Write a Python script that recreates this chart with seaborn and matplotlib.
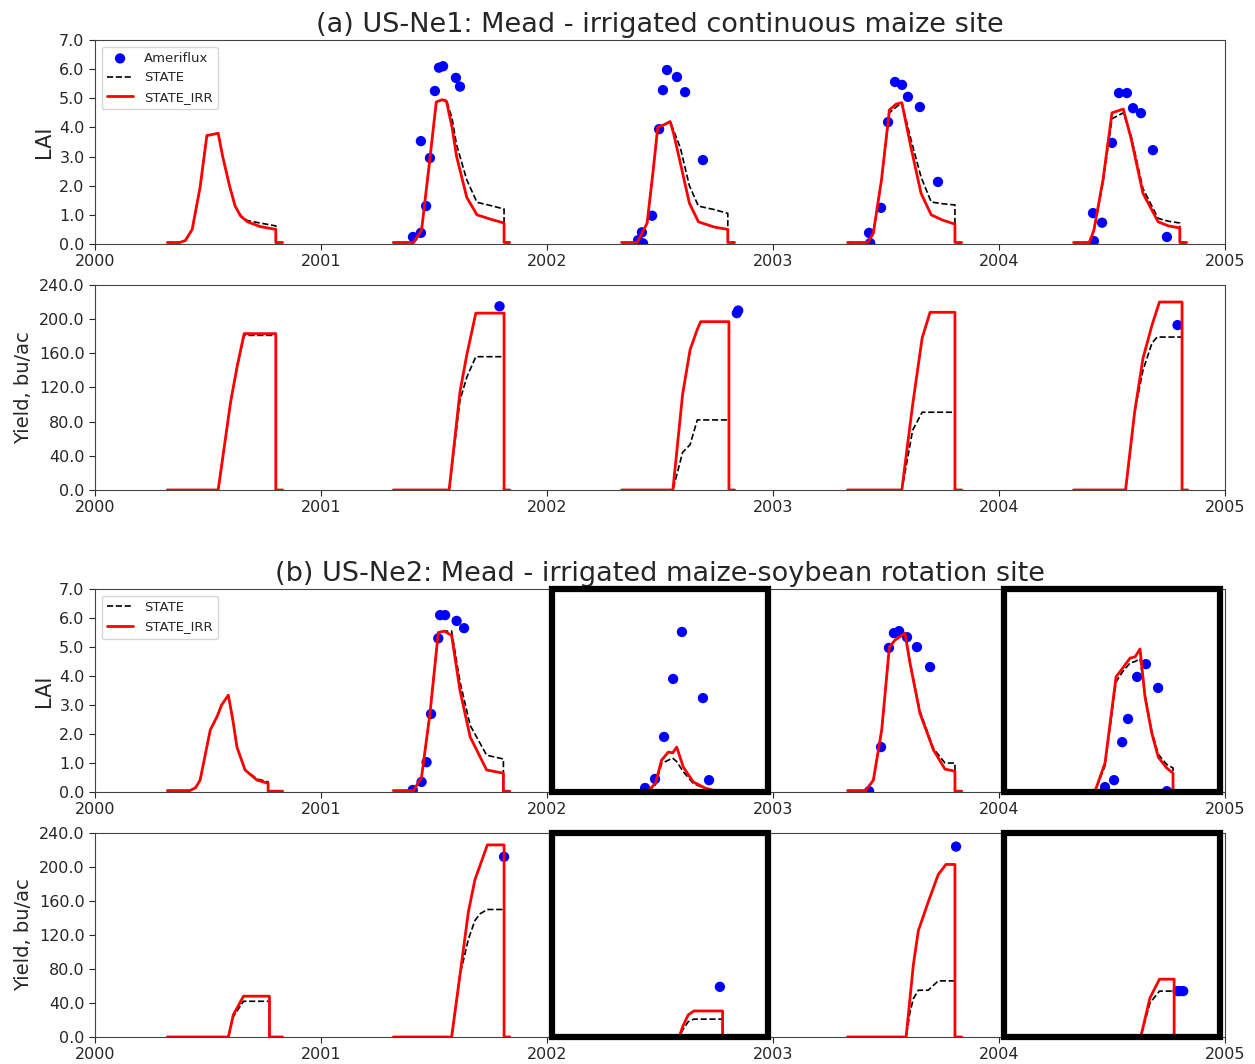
import numpy as np
import pandas as pd
import matplotlib
matplotlib.use('Agg')
import matplotlib.pyplot as plt
import matplotlib.transforms as mtransforms
from matplotlib.patches import Rectangle
import seaborn as sns

# ---------------- (a) US-Ne1, LAI ----------------
ne1_lai_t = [2000.32, 2000.375, 2000.40, 2000.43, 2000.465, 2000.495, 2000.545, 2000.565, 2000.595, 2000.62, 2000.645, 2000.675, 2000.73, 2000.80, 2000.80, 2000.83,
             2001.32, 2001.41, 2001.445, 2001.48, 2001.51, 2001.535, 2001.555, 2001.58, 2001.60, 2001.645, 2001.69, 2001.75, 2001.81, 2001.81, 2001.835,
             2002.33, 2002.40, 2002.443, 2002.47, 2002.49, 2002.52, 2002.545, 2002.56, 2002.59, 2002.63, 2002.67, 2002.74, 2002.80, 2002.80, 2002.83,
             2003.33, 2003.42, 2003.444, 2003.48, 2003.515, 2003.545, 2003.57, 2003.61, 2003.655, 2003.70, 2003.75, 2003.805, 2003.805, 2003.835,
             2004.33, 2004.40, 2004.42, 2004.46, 2004.50, 2004.55, 2004.585, 2004.637, 2004.704, 2004.75, 2004.80, 2004.80, 2004.83]
ne1_lai_irr = [0.05, 0.05, 0.12, 0.5, 1.95, 3.72, 3.8, 3.0, 2.0, 1.3, 0.95, 0.76, 0.6, 0.5, 0.05, 0.05,
               0.05, 0.05, 0.48, 2.8, 4.87, 4.95, 4.9, 4.0, 3.0, 1.6, 1.0, 0.85, 0.72, 0.05, 0.05,
               0.05, 0.05, 0.72, 2.54, 4.0, 4.1, 4.2, 3.8, 2.78, 1.4, 0.76, 0.58, 0.5, 0.05, 0.05,
               0.05, 0.05, 0.38, 2.2, 4.6, 4.8, 4.85, 3.33, 1.74, 1.0, 0.82, 0.68, 0.05, 0.05,
               0.05, 0.05, 0.48, 2.2, 4.5, 4.63, 3.6, 1.74, 0.76, 0.62, 0.55, 0.05, 0.05]
ne1_lai_state = [0.05, 0.05, 0.12, 0.5, 1.95, 3.72, 3.8, 3.0, 2.0, 1.3, 0.97, 0.8, 0.72, 0.62, 0.05, 0.05,
                 0.05, 0.05, 0.48, 2.8, 4.87, 4.95, 4.95, 4.3, 3.4, 2.2, 1.43, 1.32, 1.2, 0.05, 0.05,
                 0.05, 0.05, 0.72, 2.54, 4.0, 4.1, 4.2, 3.9, 3.3, 2.0, 1.3, 1.18, 1.05, 0.05, 0.05,
                 0.05, 0.05, 0.38, 2.2, 4.5, 4.7, 4.85, 3.6, 2.3, 1.44, 1.38, 1.34, 0.05, 0.05,
                 0.05, 0.05, 0.45, 2.1, 4.3, 4.5, 3.7, 1.9, 0.88, 0.78, 0.72, 0.05, 0.05]
ne1_lai_obs_t = [2001.407, 2001.442, 2001.442, 2001.465, 2001.482, 2001.504, 2001.522, 2001.540, 2001.597, 2001.615,
                 2002.403, 2002.42, 2002.425, 2002.465, 2002.496, 2002.513, 2002.531, 2002.575, 2002.611, 2002.69,
                 2003.425, 2003.43, 2003.478, 2003.509, 2003.54, 2003.571, 2003.597, 2003.65, 2003.73,
                 2004.416, 2004.42, 2004.456, 2004.50, 2004.531, 2004.566, 2004.593, 2004.628, 2004.681, 2004.743]
ne1_lai_obs = [0.24, 0.38, 3.53, 1.3, 2.95, 5.25, 6.05, 6.1, 5.7, 5.4,
               0.13, 0.4, 0.02, 0.97, 3.94, 5.28, 5.97, 5.73, 5.21, 2.88,
               0.38, 0.03, 1.24, 4.18, 5.56, 5.46, 5.05, 4.7, 2.13,
               1.06, 0.1, 0.73, 3.47, 5.18, 5.18, 4.66, 4.49, 3.22, 0.24]

# ---------------- (a) US-Ne1, yield ----------------
ne1_yld_t = [2000.32, 2000.545, 2000.60, 2000.63, 2000.66, 2000.80, 2000.80, 2000.83,
             2001.32, 2001.567, 2001.615, 2001.645, 2001.685, 2001.81, 2001.81, 2001.835,
             2002.33, 2002.557, 2002.60, 2002.633, 2002.665, 2002.68, 2002.805, 2002.805, 2002.83,
             2003.33, 2003.57, 2003.618, 2003.66, 2003.695, 2003.805, 2003.805, 2003.835,
             2004.33, 2004.56, 2004.60, 2004.637, 2004.677, 2004.70, 2004.71, 2004.81, 2004.81, 2004.835]
ne1_yld_irr = [0, 0, 103, 146, 183, 183, 0, 0,
               0, 0, 115, 158, 207, 207, 0, 0,
               0, 0, 112, 164, 188, 197, 197, 0, 0,
               0, 0, 100, 178, 208, 208, 0, 0,
               0, 0, 91, 154, 193, 212, 220, 220, 0, 0]
ne1_yld_state = [0, 0, 103, 146, 181, 181, 0, 0,
                 0, 0, 105, 132, 156, 156, 0, 0,
                 0, 0, 44, 53, 82, 82, 82, 0, 0,
                 0, 0, 70, 91, 91, 91, 0, 0,
                 0, 0, 91, 140, 172, 179, 179, 179, 0, 0]
ne1_yld_obs_t = [2001.79, 2002.84, 2002.846, 2004.79]
ne1_yld_obs = [215, 207, 210, 193]

# ---------------- (b) US-Ne2, LAI ----------------
ne2_lai_t = [2000.32, 2000.42, 2000.445, 2000.465, 2000.51, 2000.54, 2000.56, 2000.59, 2000.61, 2000.628, 2000.664, 2000.717, 2000.766, 2000.766, 2000.83,
             2001.32, 2001.41, 2001.445, 2001.482, 2001.519, 2001.545, 2001.578, 2001.615, 2001.66, 2001.733, 2001.807, 2001.807, 2001.835,
             2002.33, 2002.447, 2002.48, 2002.507, 2002.537, 2002.556, 2002.574, 2002.603, 2002.647, 2002.699, 2002.75,
             2003.33, 2003.41, 2003.444, 2003.481, 2003.515, 2003.54, 2003.584, 2003.606, 2003.65, 2003.71, 2003.761, 2003.805, 2003.805, 2003.835,
             2004.33, 2004.425, 2004.469, 2004.518, 2004.547, 2004.58, 2004.602, 2004.624, 2004.646, 2004.676, 2004.705, 2004.742, 2004.77, 2004.77, 2004.80]
ne2_lai_irr = [0.05, 0.05, 0.15, 0.41, 2.14, 2.6, 3.0, 3.34, 2.48, 1.55, 0.76, 0.41, 0.3, 0.03, 0.03,
               0.05, 0.05, 0.52, 2.7, 5.5, 5.55, 5.4, 3.5, 1.9, 0.76, 0.65, 0.03, 0.03,
               0.03, 0.03, 0.3, 1.1, 1.38, 1.35, 1.55, 0.86, 0.35, 0.14, 0.03,
               0.05, 0.05, 0.41, 2.14, 5.0, 5.24, 5.48, 4.45, 2.72, 1.45, 0.79, 0.72, 0.03, 0.03,
               0.03, 0.03, 1.0, 3.97, 4.27, 4.62, 4.66, 4.93, 3.28, 2.03, 1.2, 0.83, 0.65, 0.03, 0.03]
ne2_lai_state = [0.05, 0.05, 0.15, 0.41, 2.14, 2.6, 3.0, 3.34, 2.48, 1.55, 0.76, 0.45, 0.35, 0.03, 0.03,
                 0.05, 0.05, 0.52, 2.7, 5.5, 5.55, 5.55, 3.8, 2.3, 1.27, 1.14, 0.03, 0.03,
                 0.03, 0.03, 0.25, 0.98, 1.1, 1.17, 1.05, 0.7, 0.3, 0.12, 0.03,
                 0.05, 0.05, 0.41, 2.14, 5.0, 5.24, 5.48, 4.5, 2.8, 1.5, 1.0, 1.0, 0.03, 0.03,
                 0.03, 0.03, 0.9, 3.8, 4.15, 4.45, 4.5, 4.6, 3.35, 2.1, 1.3, 0.95, 0.83, 0.03, 0.03]
ne2_lai_obs_t = [2001.406, 2001.445, 2001.467, 2001.487, 2001.519, 2001.527, 2001.549, 2001.60, 2001.633,
                 2002.434, 2002.478, 2002.518, 2002.558, 2002.597, 2002.69, 2002.717,
                 2003.425, 2003.478, 2003.513, 2003.535, 2003.558, 2003.593, 2003.637, 2003.695,
                 2004.469, 2004.509, 2004.545, 2004.571, 2004.611, 2004.65, 2004.704, 2004.743]
ne2_lai_obs = [0.07, 0.35, 1.03, 2.69, 5.3, 6.1, 6.1, 5.9, 5.65,
               0.14, 0.45, 1.9, 3.9, 5.52, 3.24, 0.41,
               0.03, 1.55, 4.97, 5.48, 5.55, 5.34, 5.0, 4.31,
               0.17, 0.41, 1.72, 2.52, 3.97, 4.41, 3.59, 0.03]

# ---------------- (b) US-Ne2, yield ----------------
ne2_yld_t = [2000.32, 2000.59, 2000.612, 2000.657, 2000.772, 2000.772, 2000.83,
             2001.32, 2001.578, 2001.615, 2001.652, 2001.681, 2001.704, 2001.736, 2001.81, 2001.81, 2001.835,
             2002.33, 2002.585, 2002.60, 2002.625, 2002.65, 2002.777, 2002.777, 2002.83,
             2003.33, 2003.589, 2003.606, 2003.621, 2003.643, 2003.687, 2003.731, 2003.765, 2003.805, 2003.805, 2003.835,
             2004.33, 2004.627, 2004.668, 2004.71, 2004.775, 2004.775, 2004.80]
ne2_yld_irr = [0, 0, 26, 48, 48, 0, 0,
               0, 0, 73, 147, 185, 202, 226, 226, 0, 0,
               0, 0, 12, 26, 30.6, 30.6, 0, 0,
               0, 0, 45, 85, 125, 159, 191, 203, 203, 0, 0,
               0, 0, 46, 68, 68, 0, 0]
ne2_yld_state = [0, 0, 24, 42, 42, 0, 0,
                 0, 0, 73, 115, 137, 145, 150, 150, 0, 0,
                 0, 0, 8, 18, 21, 21, 0, 0,
                 0, 0, 29, 45, 55, 55, 66, 66, 66, 0, 0,
                 0, 0, 40, 54, 54, 0, 0]
ne2_yld_obs_t = [2001.81, 2002.765, 2003.81, 2004.79, 2004.80, 2004.815]
ne2_yld_obs = [212, 59, 224, 54, 54, 54]

years = [2000, 2001, 2002, 2003, 2004, 2005]
lai_ticks = [0, 1, 2, 3, 4, 5, 6, 7]
yld_ticks = [0, 40, 80, 120, 160, 200, 240]
soy_years = [2002, 2004]  # soybean years at US-Ne2, boxed


def season_frame(t, state, irr):
    df = pd.DataFrame({'t': t, 'STATE': state, 'STATE_IRR': irr})
    df['season'] = np.floor(df['t']).astype(int)
    return df


sns.set_style('ticks')
plt.rcParams['font.family'] = ['DejaVu Sans']

fig = plt.figure(figsize=(12.55, 10.64), dpi=100)
ax1 = fig.add_axes([0.0757, 0.7707, 0.9004, 0.1917])
ax2 = fig.add_axes([0.0757, 0.5395, 0.9004, 0.1927])
ax3 = fig.add_axes([0.0757, 0.2556, 0.9004, 0.1908])
ax4 = fig.add_axes([0.0757, 0.0254, 0.9004, 0.1917])

panels = [
    (ax1, season_frame(ne1_lai_t, ne1_lai_state, ne1_lai_irr), ne1_lai_obs_t, ne1_lai_obs, 'LAI', lai_ticks),
    (ax2, season_frame(ne1_yld_t, ne1_yld_state, ne1_yld_irr), ne1_yld_obs_t, ne1_yld_obs, 'Yield, bu/ac', yld_ticks),
    (ax3, season_frame(ne2_lai_t, ne2_lai_state, ne2_lai_irr), ne2_lai_obs_t, ne2_lai_obs, 'LAI', lai_ticks),
    (ax4, season_frame(ne2_yld_t, ne2_yld_state, ne2_yld_irr), ne2_yld_obs_t, ne2_yld_obs, 'Yield, bu/ac', yld_ticks),
]

for i, (ax, df, obs_t, obs_v, ylab, yt) in enumerate(panels):
    sns.scatterplot(x=obs_t, y=obs_v, color='blue', s=55, edgecolor='none',
                    label='Ameriflux', ax=ax, zorder=2)
    sns.lineplot(data=df, x='t', y='STATE', units='season', estimator=None, sort=False,
                 color='black', linestyle='--', linewidth=1.2, label='STATE', ax=ax, zorder=3)
    sns.lineplot(data=df, x='t', y='STATE_IRR', units='season', estimator=None, sort=False,
                 color='red', linewidth=2, label='STATE_IRR', ax=ax, zorder=4)

    ax.set_xlim(2000, 2005)
    ax.set_xticks(years)
    ax.set_xticklabels([str(y) for y in years])
    ax.set_ylim(yt[0], yt[-1])
    ax.set_yticks(yt)
    ax.set_yticklabels(['%.1f' % v for v in yt])
    ax.tick_params(labelsize=11.5, length=4)
    ax.set_xlabel('')
    ax.set_ylabel(ylab, fontsize=15 if ylab == 'LAI' else 14)
    for sp in ax.spines.values():
        sp.set_color('#444444')

    # one legend entry per series
    handles, labels = ax.get_legend_handles_labels()
    uniq = {}
    for h, l in zip(handles, labels):
        if l not in uniq:
            uniq[l] = h
    if i == 0:
        ax.legend(list(uniq.values()), list(uniq.keys()), loc='upper left', fontsize=9.5)
    elif i == 2:
        ax.legend([uniq['STATE'], uniq['STATE_IRR']], ['STATE', 'STATE_IRR'],
                  loc='upper left', fontsize=9.5)
    else:
        if ax.get_legend() is not None:
            ax.get_legend().remove()

    # highlight the soybean years at US-Ne2
    if i >= 2:
        trans = mtransforms.blended_transform_factory(ax.transData, ax.transAxes)
        for yr in soy_years:
            ax.add_patch(Rectangle((yr + 0.02, 0), 0.96, 1, transform=trans, fill=False,
                                   edgecolor='black', linewidth=4.5, clip_on=False, zorder=6))

ax1.set_title('(a) US-Ne1: Mead - irrigated continuous maize site', fontsize=19.5)
ax3.set_title('(b) US-Ne2: Mead - irrigated maize-soybean rotation site', fontsize=19.5)

plt.savefig('out.png', dpi=100)
